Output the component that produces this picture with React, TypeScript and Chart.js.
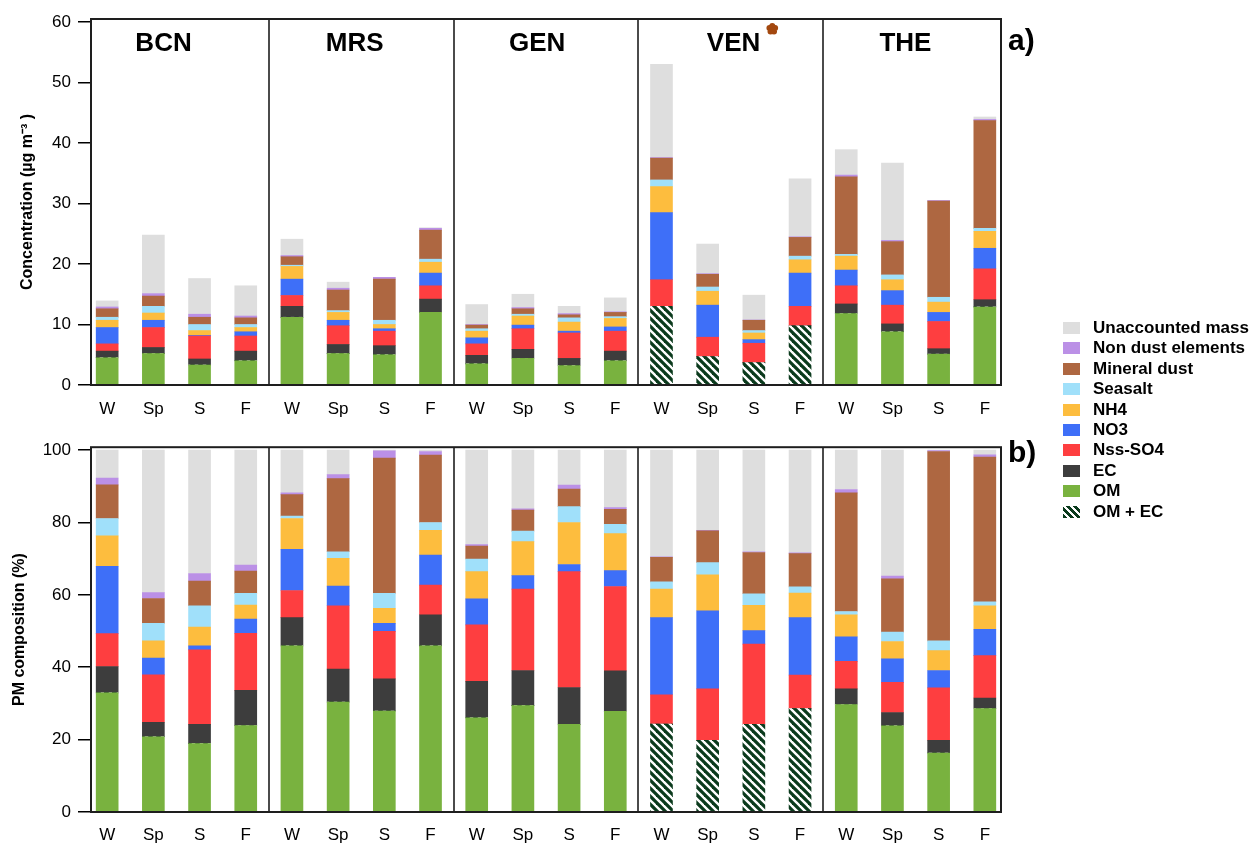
import React, { useEffect, useRef } from "react";
import { Chart, registerables } from "chart.js";

Chart.register(...registerables);

const FONT = "'Liberation Sans', Arial, Helvetica, sans-serif";

const SITES = ["BCN", "MRS", "GEN", "VEN", "THE"];
const SEASONS = ["W", "Sp", "S", "F"];
const X_LABELS = SITES.flatMap(() => SEASONS);

// ---- Panel a: concentrations (µg m-3), order BCN W,Sp,S,F | MRS | GEN | VEN | THE
const A_OM = [4.5, 5.2, 3.3, 4.0, 11.2, 5.2, 5.0, 12.0, 3.5, 4.4, 3.2, 4.0, 0, 0, 0, 0, 11.8, 8.8, 5.1, 12.9];
const A_OMEC = [0, 0, 0, 0, 0, 0, 0, 0, 0, 0, 0, 0, 13.0, 4.7, 3.7, 9.8, 0, 0, 0, 0];
const A_EC = [1.1, 1.0, 1.0, 1.6, 1.8, 1.5, 1.5, 2.2, 1.4, 1.5, 1.2, 1.6, 0, 0, 0, 0, 1.6, 1.3, 0.9, 1.2];
const A_SO4 = [1.2, 3.3, 3.8, 2.5, 1.8, 3.1, 2.4, 2.2, 1.9, 3.4, 4.2, 3.3, 4.4, 3.2, 3.2, 3.2, 3.0, 3.1, 4.5, 5.1];
const A_NO3 = [2.7, 1.2, 0.1, 0.7, 2.7, 0.9, 0.4, 2.1, 1.0, 0.6, 0.3, 0.7, 11.1, 5.3, 0.6, 5.5, 2.6, 2.4, 1.5, 3.4];
const A_NH4 = [1.2, 1.2, 0.8, 0.7, 2.1, 1.3, 0.7, 1.8, 1.1, 1.5, 1.5, 1.4, 4.3, 2.3, 1.1, 2.2, 2.3, 1.8, 1.7, 2.8];
const A_SS = [0.5, 1.1, 1.0, 0.5, 0.2, 0.3, 0.7, 0.5, 0.4, 0.3, 0.7, 0.3, 1.1, 0.7, 0.4, 0.6, 0.3, 0.8, 0.8, 0.5];
const A_DUST = [1.4, 1.7, 1.2, 1.1, 1.4, 3.4, 6.8, 4.8, 0.6, 0.9, 0.5, 0.7, 3.6, 2.1, 1.7, 3.1, 12.8, 5.5, 15.9, 17.8];
const A_ND = [0.3, 0.4, 0.5, 0.3, 0.2, 0.3, 0.3, 0.3, 0.1, 0.2, 0.2, 0.1, 0.1, 0.1, 0.05, 0.1, 0.3, 0.2, 0.1, 0.2];
const A_UN = [1.0, 9.7, 5.9, 5.0, 2.7, 1.0, 0.0, 0.1, 3.3, 2.2, 1.2, 2.3, 15.4, 4.9, 4.1, 9.6, 4.2, 12.8, 0, 0.4];

// ---- Panel b: PM composition (%)
const B_OM = [32.9, 20.8, 18.9, 23.9, 45.9, 30.4, 27.9, 45.9, 26.0, 29.4, 24.2, 27.8, 0, 0, 0, 0, 29.7, 23.8, 16.3, 28.6];
const B_OMEC = [0, 0, 0, 0, 0, 0, 0, 0, 0, 0, 0, 0, 24.3, 19.8, 24.2, 28.6, 0, 0, 0, 0];
const B_EC = [7.3, 4.0, 5.3, 9.7, 7.8, 9.1, 8.9, 8.6, 10.1, 9.7, 10.2, 11.2, 0, 0, 0, 0, 4.3, 3.7, 3.5, 2.9];
const B_SO4 = [9.1, 13.1, 20.6, 15.8, 7.5, 17.5, 13.1, 8.2, 15.6, 22.5, 32.0, 23.3, 8.1, 14.2, 22.2, 9.2, 7.6, 8.3, 14.5, 11.7];
const B_NO3 = [18.6, 4.6, 1.1, 3.9, 11.4, 5.4, 2.2, 8.3, 7.2, 3.7, 2.0, 4.4, 21.3, 21.6, 3.7, 15.9, 6.8, 6.5, 4.8, 7.3];
const B_NH4 = [8.4, 4.8, 5.2, 3.9, 8.5, 7.7, 4.2, 6.8, 7.5, 9.4, 11.6, 10.2, 7.9, 9.9, 7.0, 6.8, 6.1, 4.8, 5.5, 6.5];
const B_SS = [4.8, 4.8, 5.9, 3.2, 0.7, 1.8, 4.1, 2.2, 3.5, 2.9, 4.4, 2.6, 2.0, 3.4, 3.2, 1.7, 0.9, 2.6, 2.7, 1.1];
const B_DUST = [9.3, 6.9, 6.8, 6.2, 5.9, 20.2, 37.4, 18.6, 3.6, 5.8, 4.8, 4.1, 6.8, 8.8, 11.4, 9.2, 32.8, 14.7, 52.3, 40.0];
const B_ND = [1.9, 1.6, 2.1, 1.6, 0.5, 1.1, 2.0, 1.0, 0.4, 0.4, 1.1, 0.5, 0.1, 0.1, 0.2, 0.2, 0.9, 0.8, 0.3, 0.6];
const B_UN = [7.7, 39.4, 34.1, 31.8, 11.8, 6.8, 0.2, 0.4, 26.1, 16.2, 9.7, 15.9, 29.5, 22.2, 28.1, 28.4, 10.9, 34.8, 0.1, 1.3];

const COMPONENTS = [
  { key: "om", label: "OM", color: "#79b23f" },
  { key: "omec", label: "OM + EC", color: "#0a3a1c" },
  { key: "ec", label: "EC", color: "#3d3d3d" },
  { key: "so4", label: "Nss-SO4", color: "#fe3e40" },
  { key: "no3", label: "NO3", color: "#3e6ff8" },
  { key: "nh4", label: "NH4", color: "#fdbd3e" },
  { key: "ss", label: "Seasalt", color: "#a0e0fa" },
  { key: "dust", label: "Mineral dust", color: "#ae6741" },
  { key: "nd", label: "Non dust elements", color: "#bb90e6" },
  { key: "un", label: "Unaccounted mass", color: "#dedede" },
];

const A_SERIES = [A_OM, A_OMEC, A_EC, A_SO4, A_NO3, A_NH4, A_SS, A_DUST, A_ND, A_UN];
const B_SERIES = [B_OM, B_OMEC, B_EC, B_SO4, B_NO3, B_NH4, B_SS, B_DUST, B_ND, B_UN];

const LEGEND_ORDER = ["un", "nd", "dust", "ss", "nh4", "no3", "so4", "ec", "om", "omec"];

// layout helpers (in bar-index units)
const SEPARATORS = [3.5, 7.5, 11.5, 15.5];
const SITE_LABEL_POS = [1.22, 5.36, 9.31, 13.56, 17.28];

function makeHatch(): CanvasPattern | string {
  const c = document.createElement("canvas");
  c.width = 8;
  c.height = 8;
  const g = c.getContext("2d");
  if (!g) return "#0a3a1c";
  g.fillStyle = "#0a3a1c";
  g.fillRect(0, 0, 8, 8);
  g.strokeStyle = "#ffffff";
  g.lineWidth = 2.4;
  for (const off of [-8, 0, 8]) {
    g.beginPath();
    g.moveTo(-2, -2 + off);
    g.lineTo(10, 10 + off);
    g.stroke();
  }
  const p = g.createPattern(c, "repeat");
  return p || "#0a3a1c";
}

function decorPlugin(letter: string, letterBaseline: number, withSites: boolean) {
  return {
    id: "decor",
    afterDatasetsDraw(chart: any) {
      const { ctx, chartArea: ca, scales } = chart;
      const xs = scales.x;
      ctx.save();
      ctx.strokeStyle = "#1e1e1e";
      ctx.lineWidth = 1.6;
      for (const s of SEPARATORS) {
        const px = Math.round(xs.getPixelForValue(s));
        ctx.beginPath();
        ctx.moveTo(px, ca.top);
        ctx.lineTo(px, ca.bottom);
        ctx.stroke();
      }
      ctx.lineWidth = 2;
      ctx.strokeRect(ca.left, ca.top, ca.right - ca.left, ca.bottom - ca.top);
      ctx.fillStyle = "#000";
      if (withSites) {
        ctx.font = `bold 26px ${FONT}`;
        ctx.textAlign = "center";
        ctx.textBaseline = "alphabetic";
        SITES.forEach((s, i) => {
          const px = xs.getPixelForValue(SITE_LABEL_POS[i]);
          ctx.fillText(s, px, 51);
          if (s === "VEN") {
            const w = ctx.measureText(s).width;
            const cx = px + w / 2 + 12;
            const cy = 29;
            ctx.save();
            ctx.fillStyle = "#a3480f";
            ctx.beginPath();
            for (let k = 0; k < 5; k++) {
              const a = -Math.PI / 2 + (k * 2 * Math.PI) / 5;
              const lx = cx + 3 * Math.cos(a);
              const ly = cy + 3 * Math.sin(a);
              ctx.moveTo(lx + 3, ly);
              ctx.arc(lx, ly, 3, 0, Math.PI * 2);
            }
            ctx.moveTo(cx + 3.5, cy);
            ctx.arc(cx, cy, 3.5, 0, Math.PI * 2);
            ctx.fill();
            ctx.restore();
          }
        });
      }
      ctx.font = `bold 30px ${FONT}`;
      ctx.textAlign = "left";
      ctx.textBaseline = "alphabetic";
      ctx.fillText(letter, 1008, letterBaseline);
      ctx.restore();
    },
  };
}

function buildConfig(
  series: number[][],
  hatch: any,
  y: { max: number; step: number; title: string; titlePad: number },
  pad: { top: number; xAxisH: number; labelPad: number },
  decor: any
): any {
  const datasets = COMPONENTS.map((c, k) => ({
    label: c.label,
    data: series[k].map((v, i) => ({ x: i, y: v })),
    backgroundColor: c.key === "omec" ? hatch : c.color,
    borderWidth: 0,
    barThickness: 22,
  }));
  return {
    type: "bar",
    data: { datasets },
    plugins: [decor],
    options: {
      responsive: false,
      animation: false,
      devicePixelRatio: 1,
      layout: { padding: { top: pad.top, right: 249, left: 0, bottom: 0 } },
      plugins: { legend: { display: false }, tooltip: { enabled: false } },
      scales: {
        x: {
          type: "linear",
          min: -0.35,
          max: 19.35,
          offset: false,
          stacked: true,
          grid: { display: false, drawTicks: false, offset: false },
          border: { display: false },
          afterBuildTicks: (axis: any) => {
            axis.ticks = X_LABELS.map((_, i) => ({ value: i }));
          },
          afterFit: (axis: any) => {
            axis.height = pad.xAxisH;
          },
          ticks: {
            autoSkip: false,
            maxRotation: 0,
            minRotation: 0,
            padding: pad.labelPad,
            color: "#000",
            font: { family: FONT, size: 17 },
            callback: (v: any) => X_LABELS[Math.round(v)] ?? "",
          },
        },
        y: {
          stacked: true,
          min: 0,
          max: y.max,
          border: { display: false },
          grid: {
            drawOnChartArea: false,
            drawTicks: true,
            tickLength: 13,
            color: "#000",
            lineWidth: 1.5,
          },
          ticks: {
            stepSize: y.step,
            includeBounds: false,
            padding: 7,
            color: "#000",
            font: { family: FONT, size: 17 },
          },
          title: {
            display: true,
            text: y.title,
            color: "#000",
            font: { family: FONT, size: 16, weight: "bold" },
            padding: { top: y.titlePad, bottom: 0 },
          },
          afterFit: (axis: any) => {
            axis.width = 91;
          },
        },
      },
    },
  };
}

export default function App() {
  const refA = useRef<HTMLCanvasElement | null>(null);
  const refB = useRef<HTMLCanvasElement | null>(null);

  useEffect(() => {
    if (!refA.current || !refB.current) return;
    const hatch = makeHatch();
    const chartA = new Chart(
      refA.current,
      buildConfig(
        A_SERIES,
        hatch,
        { max: 60.5, step: 10, title: "Concentration (µg m⁻³ )", titlePad: 18 },
        { top: 19, xAxisH: 45, labelPad: 14 },
        decorPlugin("a)", 50, true)
      )
    );
    const chartB = new Chart(
      refB.current,
      buildConfig(
        B_SERIES,
        hatch,
        { max: 100.8, step: 20, title: "PM composition (%)", titlePad: 10 },
        { top: 15, xAxisH: 31, labelPad: 13 },
        decorPlugin("b)", 32, false)
      )
    );
    return () => {
      chartA.destroy();
      chartB.destroy();
    };
  }, []);

  const legendItems = LEGEND_ORDER.map((k) => COMPONENTS.find((c) => c.key === k)!);

  return (
    <div style={{ position: "absolute", left: 0, top: 0, width: 1250, height: 843, background: "#fff" }}>
      <canvas
        ref={refA}
        width={1250}
        height={430}
        style={{ position: "absolute", left: 0, top: 0, width: 1250, height: 430, display: "block" }}
      />
      <canvas
        ref={refB}
        width={1250}
        height={413}
        style={{ position: "absolute", left: 0, top: 430, width: 1250, height: 413, display: "block" }}
      />
      {legendItems.map((c, i) => (
        <div
          key={c.key}
          style={{
            position: "absolute",
            left: 1063,
            top: 318 + i * 20.4,
            height: 20,
            display: "flex",
            alignItems: "center",
            whiteSpace: "nowrap",
            fontFamily: FONT,
            fontWeight: "bold",
            fontSize: 17,
            color: "#000",
          }}
        >
          <span
            style={{
              display: "inline-block",
              width: 17,
              height: 12,
              marginRight: 13,
              background:
                c.key === "omec"
                  ? "repeating-linear-gradient(45deg, #0a3a1c 0px, #0a3a1c 3px, #ffffff 3px, #ffffff 5px)"
                  : c.color,
            }}
          />
          <span>{c.label}</span>
        </div>
      ))}
    </div>
  );
}
